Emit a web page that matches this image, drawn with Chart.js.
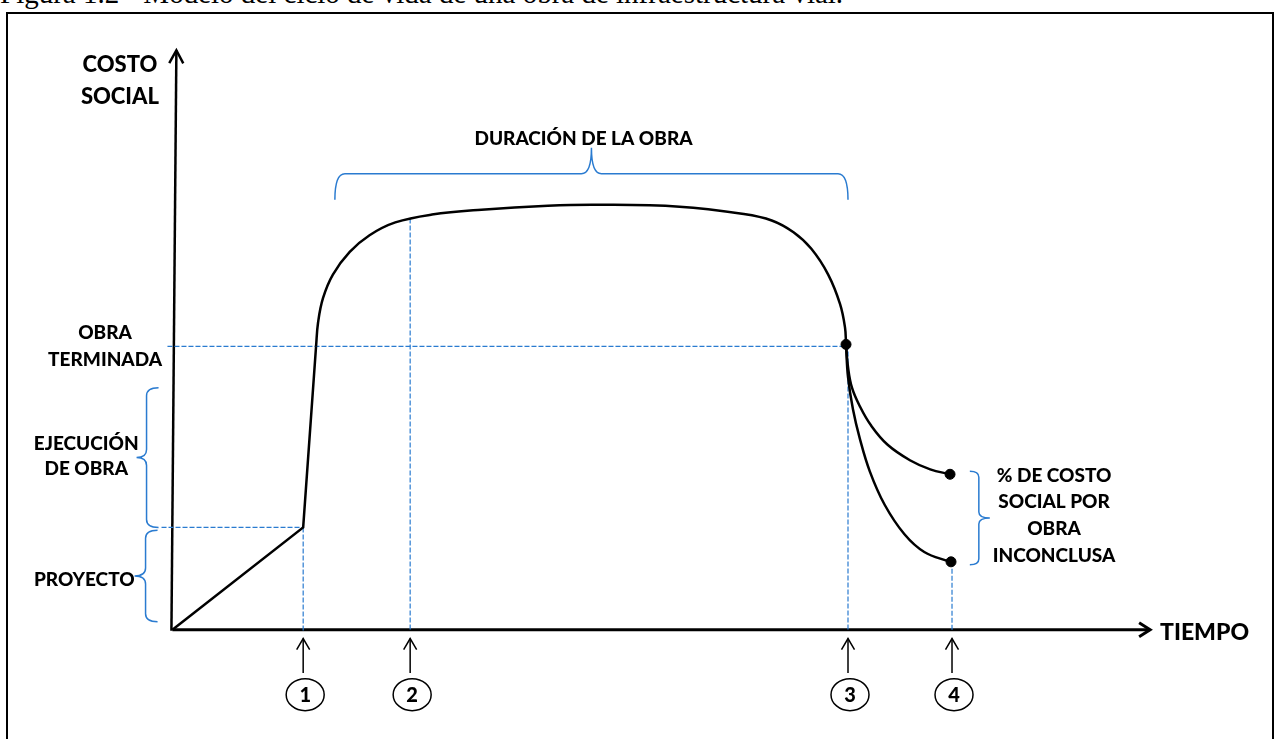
<!DOCTYPE html>
<html lang="es">
<head>
<meta charset="UTF-8">
<title>Modelo del ciclo de vida de una obra de infraestructura vial</title>
<script src="https://cdn.jsdelivr.net/npm/chart.js"></script>
<style>
  body { margin: 0; background: #fff; overflow: hidden; }
  #titulo {
    position: absolute; left: 0; top: -23px;
    font-family: 'Liberation Serif', 'Times New Roman', serif;
    font-size: 29px; color: #000; white-space: nowrap;
  }
  #marco {
    position: absolute; left: 6px; top: 12px; width: 1268px; height: 800px;
    border: 2px solid #000; box-sizing: border-box;
  }
  #caja { position: absolute; left: 0; top: 0; width: 1275px; height: 739px; }
</style>
</head>
<body>
<div id="titulo">Figura 1.2 - Modelo del ciclo de vida de una obra de infraestructura vial.</div>
<div id="marco"></div>
<div id="caja"><canvas id="grafico"></canvas></div>
<script>
const tramoInicial = [[0, 0], [13.2, 26], [14.5, 72]];
const curvaObra = [[14.5, 72], [14.7, 78], [15.2, 84.25], [16.2, 90.25], [17.9, 96], [19.9, 100.25],
  [22.5, 103.5], [26.2, 105.5], [31.2, 106.75], [37.9, 107.75], [42.9, 108], [51.2, 107.5],
  [57.5, 105.7], [60.5, 104], [62.7, 101], [64.5, 96.8], [66.2, 90.25], [67.4, 82.75],
  [67.9, 76.75], [68, 72.5]];
const ramaAlta = [[68, 72.5], [68.2, 66.75], [68.6, 61.5], [69.4, 56.75], [70.5, 52],
  [72.2, 47], [74.5, 43], [76.5, 40.75], [78.5, 39.5]];
const ramaBaja = [[68, 72.5], [68.2, 64.25], [68.7, 56], [69.4, 48.5], [70.4, 40.25],
  [71.9, 31.75], [73.9, 24.25], [75.9, 19.75], [78.5, 17.25]];
const puntos = [[68, 72.5], [78.5, 39.5], [78.6, 17.25]];

const nivelProyecto = 26;
const nivelTerminada = 72;
const hitos = [13.2, 24, 68.2, 78.7];
const hitoEtiquetas = ['1', '2', '3', '4'];
const hitoTope = [26, 104.5, 72.5, 17.25];

// llaves: [desde, hasta] sobre el eje que abarcan
const llaveEjecucion = [61.5, 26];
const llaveProyecto = [25.25, 2];
const llaveDuracion = [16.4, 68.2];
const llaveInconclusa = [40.25, 16.5];

const negro = '#000';
const azul = '#2a7bd0';
const toXY = a => a.map(p => ({ x: p[0], y: p[1] }));

function linea(data, extra) {
  return Object.assign({
    data: toXY(data), showLine: true, borderColor: negro, borderWidth: 2.5,
    pointRadius: 0, fill: false, tension: 0, order: 1
  }, extra);
}
function guia(data) {
  return linea(data, { borderColor: azul, borderWidth: 1.2, borderDash: [5, 2], order: 5 });
}

const datasets = [
  linea(tramoInicial),
  linea(curvaObra, { tension: 0.4 }),
  linea(ramaAlta, { tension: 0.4 }),
  linea(ramaBaja, { tension: 0.4 }),
  { data: toXY(puntos), showLine: false, pointRadius: 5, pointBackgroundColor: negro,
    pointBorderColor: negro, order: 0 },
  guia([[-0.5, nivelTerminada], [68, nivelTerminada]]),
  guia([[-1.1, nivelProyecto], [13.2, nivelProyecto]])
];
hitos.forEach((h, i) => datasets.push(guia([[h, hitoTope[i]], [h, -0.3]])));

function flecha(ctx, x1, y1, x2, y2, largo, abre, grosor) {
  ctx.save();
  ctx.strokeStyle = negro; ctx.lineWidth = grosor;
  ctx.beginPath(); ctx.moveTo(x1, y1); ctx.lineTo(x2, y2); ctx.stroke();
  const a = Math.atan2(y2 - y1, x2 - x1), ux = Math.cos(a), uy = Math.sin(a);
  ctx.beginPath();
  ctx.moveTo(x2 - ux * largo - uy * abre, y2 - uy * largo + ux * abre);
  ctx.lineTo(x2, y2);
  ctx.lineTo(x2 - ux * largo + uy * abre, y2 - uy * largo - ux * abre);
  ctx.stroke();
  ctx.restore();
}

function llave(ctx, x1, y1, x2, y2, fondo, punta, r) {
  const L = Math.hypot(x2 - x1, y2 - y1), ux = (x2 - x1) / L, uy = (y2 - y1) / L;
  const nx = -uy, ny = ux;
  const P = (s, d) => [x1 + s * ux + d * nx, y1 + s * uy + d * ny];
  ctx.save();
  ctx.strokeStyle = azul; ctx.lineWidth = 1.5;
  ctx.beginPath();
  ctx.moveTo(...P(0, 0));
  ctx.quadraticCurveTo(...P(0, fondo), ...P(r, fondo));
  ctx.lineTo(...P(L / 2 - r, fondo));
  ctx.quadraticCurveTo(...P(L / 2, fondo), ...P(L / 2, fondo + punta));
  ctx.quadraticCurveTo(...P(L / 2, fondo), ...P(L / 2 + r, fondo));
  ctx.lineTo(...P(L - r, fondo));
  ctx.quadraticCurveTo(...P(L, fondo), ...P(L, 0));
  ctx.stroke();
  ctx.restore();
}

function texto(ctx, lineas, x, y, size, alto, align) {
  ctx.save();
  ctx.fillStyle = negro;
  ctx.font = '900 ' + size + 'px Lato, "Open Sans", sans-serif';
  ctx.textAlign = align || 'center';
  ctx.textBaseline = 'middle';
  const y0 = y - (lineas.length - 1) * alto / 2;
  lineas.forEach((t, i) => ctx.fillText(t, x, y0 + i * alto));
  ctx.restore();
}

const dibujo = {
  id: 'dibujo',
  beforeDatasetsDraw(chart) {
    const ctx = chart.ctx, sx = chart.scales.x, sy = chart.scales.y;
    const X = v => sx.getPixelForValue(v), Y = v => sy.getPixelForValue(v);
    // ejes con flecha
    flecha(ctx, X(-0.1), Y(-0.25), X(0.4), Y(147.25), 13, 7, 2.5);
    flecha(ctx, X(0), Y(0), X(98.7), Y(0), 11, 7, 3);
    // llaves
    llave(ctx, X(-1.4), Y(llaveEjecucion[0]), X(-1.4), Y(llaveEjecucion[1]), 12, 10, 8);
    llave(ctx, X(-1.5), Y(llaveProyecto[0]), X(-1.5), Y(llaveProyecto[1]), 12, 11, 8);
    llave(ctx, X(llaveDuracion[0]), Y(109.25), X(llaveDuracion[1]), Y(109.25), -26, -26, 10);
    llave(ctx, X(80.5), Y(llaveInconclusa[0]), X(80.5), Y(llaveInconclusa[1]), -9, -11, 6);
  },
  afterDraw(chart) {
    const ctx = chart.ctx, sx = chart.scales.x, sy = chart.scales.y;
    const X = v => sx.getPixelForValue(v), Y = v => sy.getPixelForValue(v);
    // hitos numerados bajo el eje del tiempo
    hitos.forEach((h, i) => {
      flecha(ctx, X(h), Y(-11), X(h), Y(-2.25), 11, 6.5, 1.5);
      const cx = X(h) + 2, cy = Y(-16.5);
      ctx.save();
      ctx.strokeStyle = negro; ctx.lineWidth = 1.5; ctx.fillStyle = '#fff';
      ctx.beginPath(); ctx.ellipse(cx, cy, 19, 16, 0, 0, Math.PI * 2); ctx.fill(); ctx.stroke();
      ctx.restore();
      texto(ctx, [hitoEtiquetas[i]], cx, cy + 1, 20, 0);
    });
    texto(ctx, ['COSTO', 'SOCIAL'], X(-5.3), Y(139.5), 22, 32);
    texto(ctx, ['OBRA', 'TERMINADA'], X(-6.8), Y(71.9), 19, 27);
    texto(ctx, ['EJECUCIÓN', 'DE OBRA'], X(-8.7), Y(44.1), 19, 25);
    texto(ctx, ['PROYECTO'], X(-8.9), Y(12.75), 19, 0);
    texto(ctx, ['DURACIÓN DE LA OBRA'], X(41.5), Y(124.75), 19, 0);
    texto(ctx, ['% DE COSTO', 'SOCIAL POR', 'OBRA', 'INCONCLUSA'], X(89), Y(29), 19, 26.7);
    texto(ctx, ['TIEMPO'], X(99.7), Y(-0.75), 23, 0, 'left');
  }
};

new Chart(document.getElementById('grafico'), {
  type: 'scatter',
  data: { datasets: datasets },
  options: {
    responsive: true,
    maintainAspectRatio: false,
    animation: false,
    layout: { padding: 0 },
    scales: {
      x: { type: 'linear', min: -16.8, max: 110.7, display: false },
      y: { type: 'linear', min: -26.25, max: 158.5, display: false }
    },
    plugins: { legend: { display: false }, tooltip: { enabled: false } }
  },
  plugins: [dibujo]
});
</script>
</body>
</html>
